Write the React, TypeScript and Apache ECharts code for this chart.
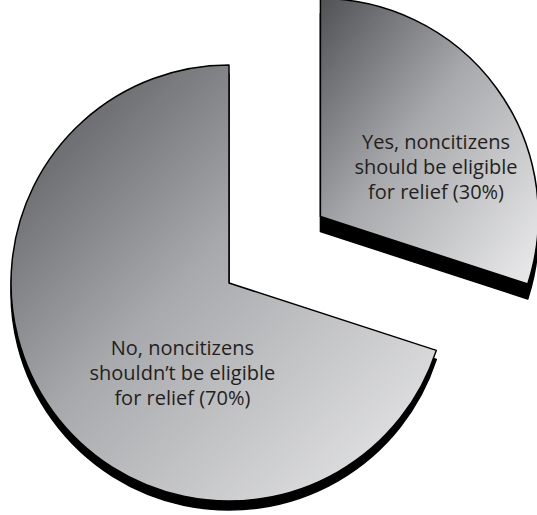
import React, { useEffect, useRef } from "react";
import * as echarts from "echarts";

// Survey answers and their shares (percent)
const categories = [
  "Yes, noncitizens\nshould be eligible\nfor relief",
  "No, noncitizens\nshouldn\u2019t be eligible\nfor relief",
];
const shares = [30, 70];

// Drop depth under each wedge and nudges for the wedge captions
const depths = [15, 9];
const captionNudges = [
  { dx: 25, dy: 16 },
  { dx: 44, dy: 24 },
];

const sliceFill = () =>
  new echarts.graphic.LinearGradient(0, 0, 1, 1, [
    { offset: 0, color: "#505155" },
    { offset: 0.45, color: "#a8a9ac" },
    { offset: 1, color: "#ececed" },
  ]);

export default function App() {
  const ref = useRef<HTMLDivElement>(null);

  useEffect(() => {
    if (!ref.current) return;
    const chart = echarts.init(ref.current, undefined, { renderer: "svg" });

    const data = categories.map((name, i) => {
      const itemStyle = {
        color: sliceFill(),
        borderColor: "#000",
        borderWidth: 1.5,
        shadowColor: "#000",
        shadowBlur: 0,
        shadowOffsetX: 0,
        shadowOffsetY: depths[i],
      };
      return {
        name,
        value: shares[i],
        selected: i === 0,
        itemStyle,
        select: { itemStyle },
      };
    });

    chart.setOption({
      animation: false,
      backgroundColor: "#ffffff",
      series: [
        {
          type: "pie",
          center: [229, 283],
          radius: 218,
          startAngle: 90,
          clockwise: true,
          selectedMode: "single",
          selectedOffset: 113,
          avoidLabelOverlap: false,
          emphasis: { disabled: true, scale: false },
          label: {
            show: true,
            position: "inside",
            formatter: "{b} ({c}%)",
            fontFamily: "Open Sans",
            fontSize: 20,
            lineHeight: 25,
            color: "#231f20",
            align: "center",
          },
          labelLine: { show: false },
          labelLayout: (params: any) => captionNudges[params.dataIndex],
          data,
        },
      ],
    });

    return () => chart.dispose();
  }, []);

  return (
    <div
      ref={ref}
      style={{ position: "absolute", left: 0, top: 0, width: 537, height: 515 }}
    />
  );
}
